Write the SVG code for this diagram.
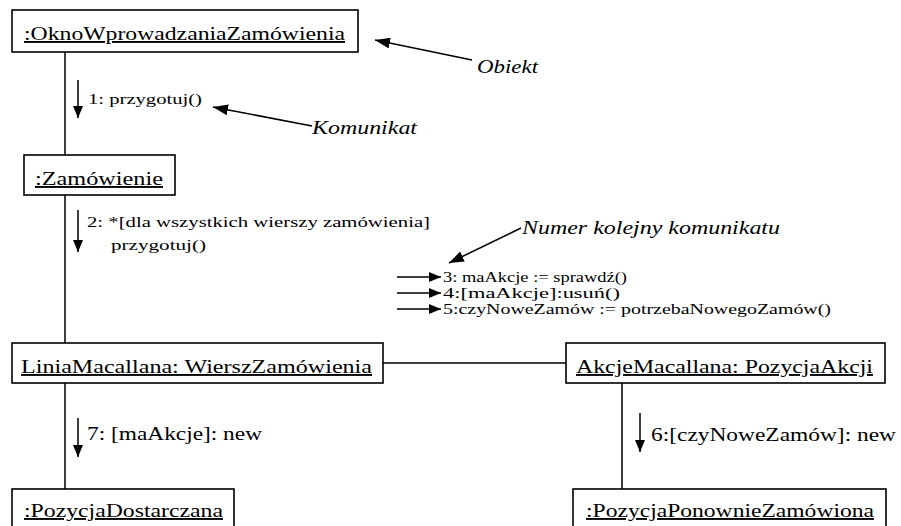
<svg xmlns="http://www.w3.org/2000/svg" width="901" height="526" viewBox="0 0 901 526" font-family="Liberation Serif, Times New Roman, DejaVu Serif, serif">
  <defs>
    <marker id="head" markerUnits="userSpaceOnUse" markerWidth="12" markerHeight="10" refX="12" refY="5" orient="auto">
      <path d="M0,0 L12,5 L0,10 Z" fill="#000"/>
    </marker>
    <marker id="headLarge" markerUnits="userSpaceOnUse" markerWidth="15" markerHeight="11" refX="15" refY="5.5" orient="auto">
      <path d="M0,0 L15,5.5 L0,11 Z" fill="#000"/>
    </marker>
    <style>
      .box { fill: #fff; stroke: #000; stroke-width: 1.6; }
      .link { stroke: #000; stroke-width: 1.5; fill: none; }
      .msg { stroke: #000; stroke-width: 1.5; fill: none; marker-end: url(#head); }
      .note { stroke: #000; stroke-width: 1.5; fill: none; marker-end: url(#headLarge); }
      .name { font-size: 19px; text-decoration: underline; fill: #000; }
      .label { font-size: 15px; fill: #000; }
      .labelBig { font-size: 18.5px; fill: #000; }
      .remark { font-size: 19px; font-style: italic; fill: #000; }
    </style>
  </defs>

  <!-- links between objects -->
  <g id="connectors">
    <line class="link" x1="65" y1="52" x2="65" y2="155"/>
    <line class="link" x1="65" y1="195" x2="65" y2="343"/>
    <line class="link" x1="65" y1="383" x2="65" y2="489"/>
    <line class="link" x1="383" y1="363" x2="566" y2="363"/>
    <line class="link" x1="622" y1="383" x2="622" y2="489"/>

    <!-- message direction arrows -->
    <line class="msg" x1="78" y1="80" x2="78" y2="118"/>
    <line class="msg" x1="78" y1="210" x2="78" y2="252"/>
    <line class="msg" x1="397" y1="277" x2="441" y2="277"/>
    <line class="msg" x1="397" y1="293" x2="441" y2="293"/>
    <line class="msg" x1="397" y1="309" x2="441" y2="309"/>
    <line class="msg" x1="78" y1="418" x2="78" y2="457"/>
    <line class="msg" x1="640" y1="413" x2="640" y2="452"/>

    <!-- annotation pointers -->
    <line class="note" x1="472" y1="60" x2="375" y2="40"/>
    <line class="note" x1="312" y1="126" x2="213" y2="107"/>
    <line class="note" x1="521" y1="228" x2="449" y2="263"/>
  </g>

  <!-- message labels -->
  <g id="messages">
    <text class="label" x="88" y="104" textLength="114" lengthAdjust="spacingAndGlyphs">1: przygotuj()</text>
    <text class="label" x="87" y="227" textLength="343" lengthAdjust="spacingAndGlyphs">2: *[dla wszystkich wierszy zamówienia]</text>
    <text class="label" x="111" y="250" textLength="95" lengthAdjust="spacingAndGlyphs">przygotuj()</text>
    <text class="label" x="443" y="282" textLength="184" lengthAdjust="spacingAndGlyphs">3: maAkcje := sprawdź()</text>
    <text class="label" x="443" y="298" textLength="177" lengthAdjust="spacingAndGlyphs">4:[maAkcje]:usuń()</text>
    <text class="label" x="443" y="314" textLength="388" lengthAdjust="spacingAndGlyphs">5:czyNoweZamów := potrzebaNowegoZamów()</text>
    <text class="labelBig" x="87" y="440" textLength="175" lengthAdjust="spacingAndGlyphs">7: [maAkcje]: new</text>
    <text class="labelBig" x="651" y="441" textLength="245" lengthAdjust="spacingAndGlyphs">6:[czyNoweZamów]: new</text>
  </g>

  <!-- annotations -->
  <g id="annotations">
    <text class="remark" x="477" y="73" textLength="61" lengthAdjust="spacingAndGlyphs">Obiekt</text>
    <text class="remark" x="312" y="134" textLength="105" lengthAdjust="spacingAndGlyphs">Komunikat</text>
    <text class="remark" x="522" y="234" textLength="258" lengthAdjust="spacingAndGlyphs">Numer kolejny komunikatu</text>
  </g>

  <!-- objects -->
  <g id="okno">
    <rect class="box" x="12" y="10" width="346" height="42"/>
    <text class="name" x="24" y="40" textLength="321" lengthAdjust="spacingAndGlyphs">:OknoWprowadzaniaZamówienia</text>
  </g>
  <g id="zamowienie">
    <rect class="box" x="24" y="155" width="151" height="40"/>
    <text class="name" x="35" y="185" textLength="128" lengthAdjust="spacingAndGlyphs">:Zamówienie</text>
  </g>
  <g id="liniaMacallana">
    <rect class="box" x="12" y="343" width="371" height="40"/>
    <text class="name" x="21" y="373" textLength="351" lengthAdjust="spacingAndGlyphs">LiniaMacallana: WierszZamówienia</text>
  </g>
  <g id="akcjeMacallana">
    <rect class="box" x="566" y="343" width="319" height="40"/>
    <text class="name" x="576" y="373" textLength="297" lengthAdjust="spacingAndGlyphs">AkcjeMacallana: PozycjaAkcji</text>
  </g>
  <g id="pozycjaDostarczana">
    <rect class="box" x="12" y="489" width="222" height="42"/>
    <text class="name" x="24" y="517" textLength="199" lengthAdjust="spacingAndGlyphs">:PozycjaDostarczana</text>
  </g>
  <g id="pozycjaPonownieZamowiona">
    <rect class="box" x="573" y="489" width="313" height="42"/>
    <text class="name" x="586" y="517" textLength="288" lengthAdjust="spacingAndGlyphs">:PozycjaPonownieZamówiona</text>
  </g>
</svg>
